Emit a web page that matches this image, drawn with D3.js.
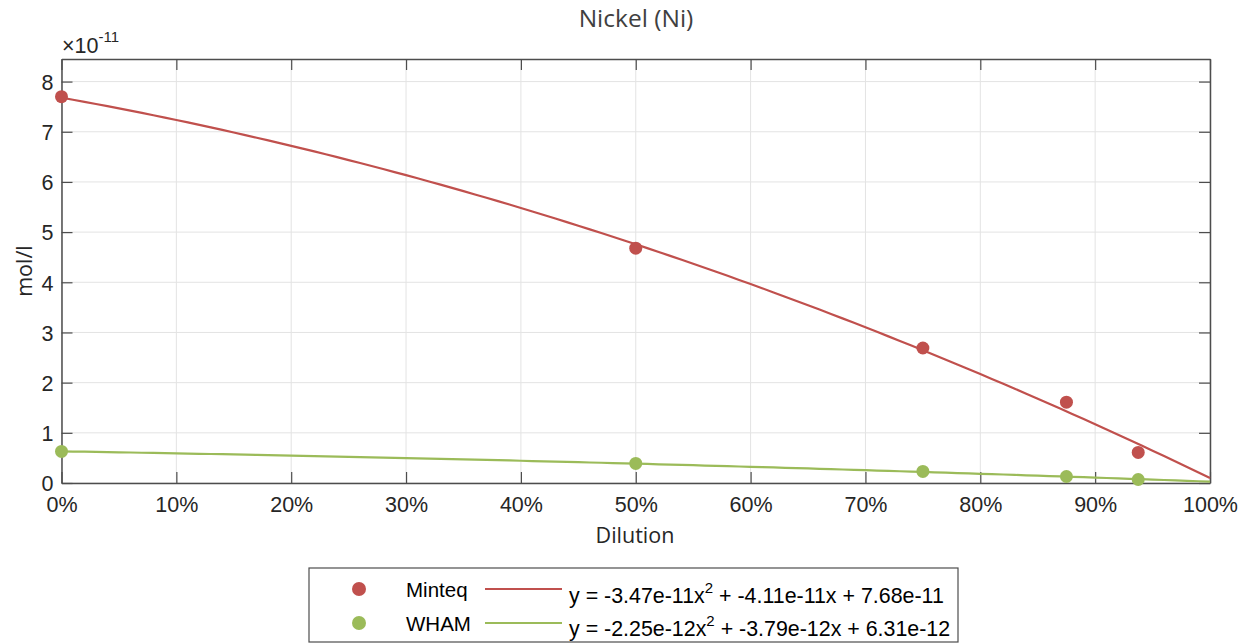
<!DOCTYPE html>
<html><head><meta charset="utf-8">
<script src="https://cdn.jsdelivr.net/npm/d3@7"></script>
<style>body{margin:0;background:#fff;}svg{display:block;font-family:"Liberation Sans",Arial,sans-serif;}</style>
</head><body><svg id="c" width="1249" height="644"></svg>
<script>
// Data (values in units of 1e-11 mol/l)
const dilution = [0, 0.5, 0.75, 0.875, 0.9375];
const minteq = [7.70, 4.68, 2.69, 1.61, 0.61];
const wham = [0.63, 0.39, 0.23, 0.13, 0.07];
// Fit coefficients (a, b, c) for y = a x^2 + b x + c, in 1e-11
const minteqFit = [-3.47, -4.11, 7.68];
const whamFit = [-0.225, -0.379, 0.631];
const seriesNames = ["Minteq", "WHAM"];
const fitLabels = ["y = -3.47e-11x", "y = -2.25e-12x"];
const fitRest = [" + -4.11e-11x + 7.68e-11", " + -3.79e-12x + 6.31e-12"];
const xTicks = [0,0.1,0.2,0.3,0.4,0.5,0.6,0.7,0.8,0.9,1];
const yTicks = [0,1,2,3,4,5,6,7,8];
const colors = ["#c0504d", "#9bbb59"];

const svg = d3.select("#c");
const L = 61.5, R = 1210, T = 59, B = 483;
const x = d3.scaleLinear().domain([0,1]).range([L,R]);
const y = d3.scaleLinear().domain([0,8.45]).range([B,T]);
const axCol = "#4d4d4d", txtCol = "#262626";
const humanist = "'Open Sans','Noto Sans',sans-serif";

// grid
svg.append("g").selectAll("line").data(xTicks).join("line")
  .attr("x1",d=>x(d)).attr("x2",d=>x(d)).attr("y1",T).attr("y2",B)
  .attr("stroke","#e3e3e3").attr("stroke-width",1);
svg.append("g").selectAll("line").data(yTicks).join("line")
  .attr("y1",d=>y(d)).attr("y2",d=>y(d)).attr("x1",L).attr("x2",R)
  .attr("stroke","#e3e3e3").attr("stroke-width",1);

// axes
const fs = 21.5;
const xa = svg.append("g").attr("transform",`translate(0,${B})`)
  .call(d3.axisBottom(x).tickValues(xTicks).tickFormat(d=>Math.round(d*100)+"%").tickSizeInner(-11).tickSizeOuter(0).tickPadding(14));
const ya = svg.append("g").attr("transform",`translate(${L},0)`)
  .call(d3.axisLeft(y).tickValues(yTicks).tickFormat(d3.format("d")).tickSizeInner(-11).tickSizeOuter(0).tickPadding(8));
svg.append("g").attr("transform",`translate(0,${T})`)
  .call(d3.axisTop(x).tickValues(xTicks).tickFormat("").tickSizeInner(-11).tickSizeOuter(0));
svg.append("g").attr("transform",`translate(${R},0)`)
  .call(d3.axisRight(y).tickValues(yTicks).tickFormat("").tickSizeInner(-11).tickSizeOuter(0));
svg.selectAll(".domain").attr("stroke",axCol).attr("stroke-width",1.5);
svg.selectAll(".tick line").attr("stroke",axCol).attr("stroke-width",1.2);
svg.selectAll(".tick text").attr("fill",txtCol).attr("font-size",fs).attr("font-family","'Liberation Sans', Arial, sans-serif");
xa.selectAll(".tick text").attr("dy","0.71em");
ya.selectAll(".tick text").attr("dy","0.36em");

// fit curves
const fits = [minteqFit, whamFit];
const xs = d3.range(0, 1.0001, 0.01);
const line = d3.line().x(d=>x(d[0])).y(d=>y(d[1]));
fits.forEach((f,i)=>{
  svg.append("path").datum(xs.map(v=>[v, f[0]*v*v + f[1]*v + f[2]]))
    .attr("d",line).attr("fill","none").attr("stroke",colors[i]).attr("stroke-width",2.2);
});

// points
[minteq, wham].forEach((s,i)=>{
  svg.append("g").selectAll("circle").data(s).join("circle")
    .attr("cx",(d,j)=>x(dilution[j])).attr("cy",d=>y(d)).attr("r",6.5).attr("fill",colors[i]);
});

// title, labels
svg.append("text").attr("x",636).attr("y",27).attr("text-anchor","middle").attr("font-family",humanist)
  .attr("font-size",24.5).attr("fill","#404040").text("Nickel (Ni)");
svg.append("text").attr("x",635).attr("y",543).attr("text-anchor","middle").attr("font-family",humanist)
  .attr("font-size",21.5).attr("fill",txtCol).text("Dilution");
svg.append("text").attr("transform","translate(32,271) rotate(-90)").attr("text-anchor","middle").attr("font-family",humanist)
  .attr("font-size",21.5).attr("fill",txtCol).text("mol/l");
const ex = svg.append("text").attr("x",62).attr("y",53).attr("font-size",21.5).attr("fill",txtCol);
ex.append("tspan").text("×10");
ex.append("tspan").attr("dy",-11).attr("font-size",15).text("-11");

// legend
const lg = svg.append("g");
lg.append("rect").attr("x",309).attr("y",568).attr("width",649).attr("height",74)
  .attr("fill","#fff").attr("stroke","#4d4d4d").attr("stroke-width",1.2);
[[589, 597, 603], [623, 631, 636]].forEach((r,i)=>{
  const [yy, tb, eb] = r;
  lg.append("circle").attr("cx",359).attr("cy",yy).attr("r",7).attr("fill",colors[i]);
  lg.append("text").attr("x",406).attr("y",tb).attr("font-size",20.5).attr("fill","#000").text(seriesNames[i]);
  lg.append("line").attr("x1",485).attr("x2",562).attr("y1",yy).attr("y2",yy).attr("stroke",colors[i]).attr("stroke-width",2.2);
  const t = lg.append("text").attr("x",569).attr("y",eb).attr("font-size",21.4).attr("fill","#000");
  t.append("tspan").text(fitLabels[i]);
  t.append("tspan").attr("dy",-10).attr("font-size",15).text("2");
  t.append("tspan").attr("dy",10).text(fitRest[i]);
});
</script></body></html>
